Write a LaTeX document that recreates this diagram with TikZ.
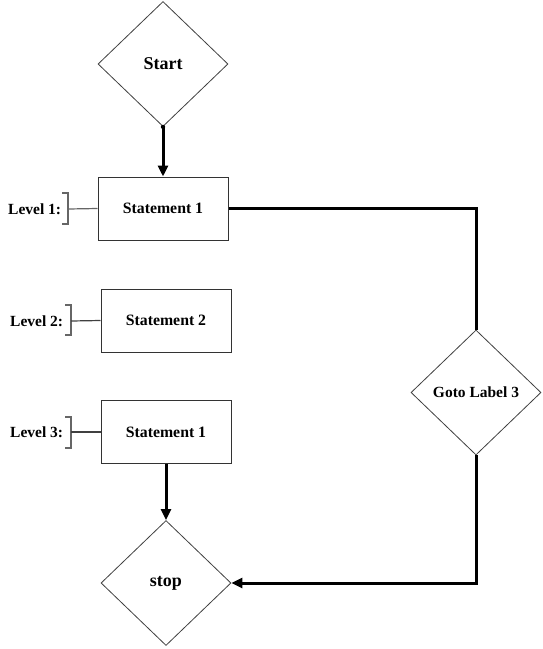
\documentclass[tikz,border=0pt]{standalone}
\usepackage{fontspec}
\setmainfont{Liberation Serif}
\usetikzlibrary{shapes.geometric,arrows.meta}
\begin{document}
\begin{tikzpicture}[x=1pt,y=-1pt,
  dia/.style={draw=black!75,line width=0.8pt,diamond,inner sep=0pt,minimum width=130pt,minimum height=125pt,font=\bfseries\fontsize{18}{20}\selectfont},
  stbox/.style={draw=black!80,line width=1pt,rectangle,minimum width=130pt,minimum height=63pt,inner sep=0pt,font=\bfseries\fontsize{15.8}{18}\selectfont},
  lvl/.style={font=\bfseries\fontsize{15.5}{18}\selectfont,anchor=west,inner sep=0pt},
  brk/.style={draw=black!60,line width=1.2pt},
  conn/.style={line width=3pt,line join=miter},
  arr/.style={conn,-{Triangle[length=11pt,width=10pt]}}
]
\useasboundingbox (0,0) rectangle (542,649);
% nodes
\node[dia] (start) at (163,64) {Start};
\node[stbox] (s1) at (163,208.5) {Statement 1};
\node[stbox] (s2) at (166,320.5) {Statement 2};
\node[stbox] (s3) at (166,432) {Statement 1};
\node[dia] (stop) at (166,583) {stop};
\node[dia,font=\bfseries\fontsize{15.5}{18}\selectfont] (goto) at (476,392.5) {Goto Label 3};
% level labels
\node[lvl] (l1) at (8,209) {Level 1:};
\node[lvl] (l2) at (10,321) {Level 2:};
\node[lvl] (l3) at (10,432) {Level 3:};
% brackets
\coordinate (b1) at (68,209);
\coordinate (b2) at (71,321);
\coordinate (b3) at (71,432);
\draw[brk] (62,193) -- (68,193) -- (68,224) -- (62,224);
\draw[brk] (65,305) -- (71,305) -- (71,335) -- (65,335);
\draw[brk] (65,417) -- (71,417) -- (71,448) -- (65,448);
\draw[brk] (b1) -- (s1.west);
\draw[brk,draw=black!75] (b2) -- (s2.west);
\draw[brk,draw=black!75] (b3) -- (s3.west);
% connectors
\fill (start.south) circle (2.2pt);
\draw[arr] (start.south) -- (s1.north);
\draw[arr] (s3.south) -- (stop.north);
\draw[conn] (s1.east) -| (goto.north);
\draw[arr] (goto.south) |- (stop.east);
\end{tikzpicture}
\end{document}
